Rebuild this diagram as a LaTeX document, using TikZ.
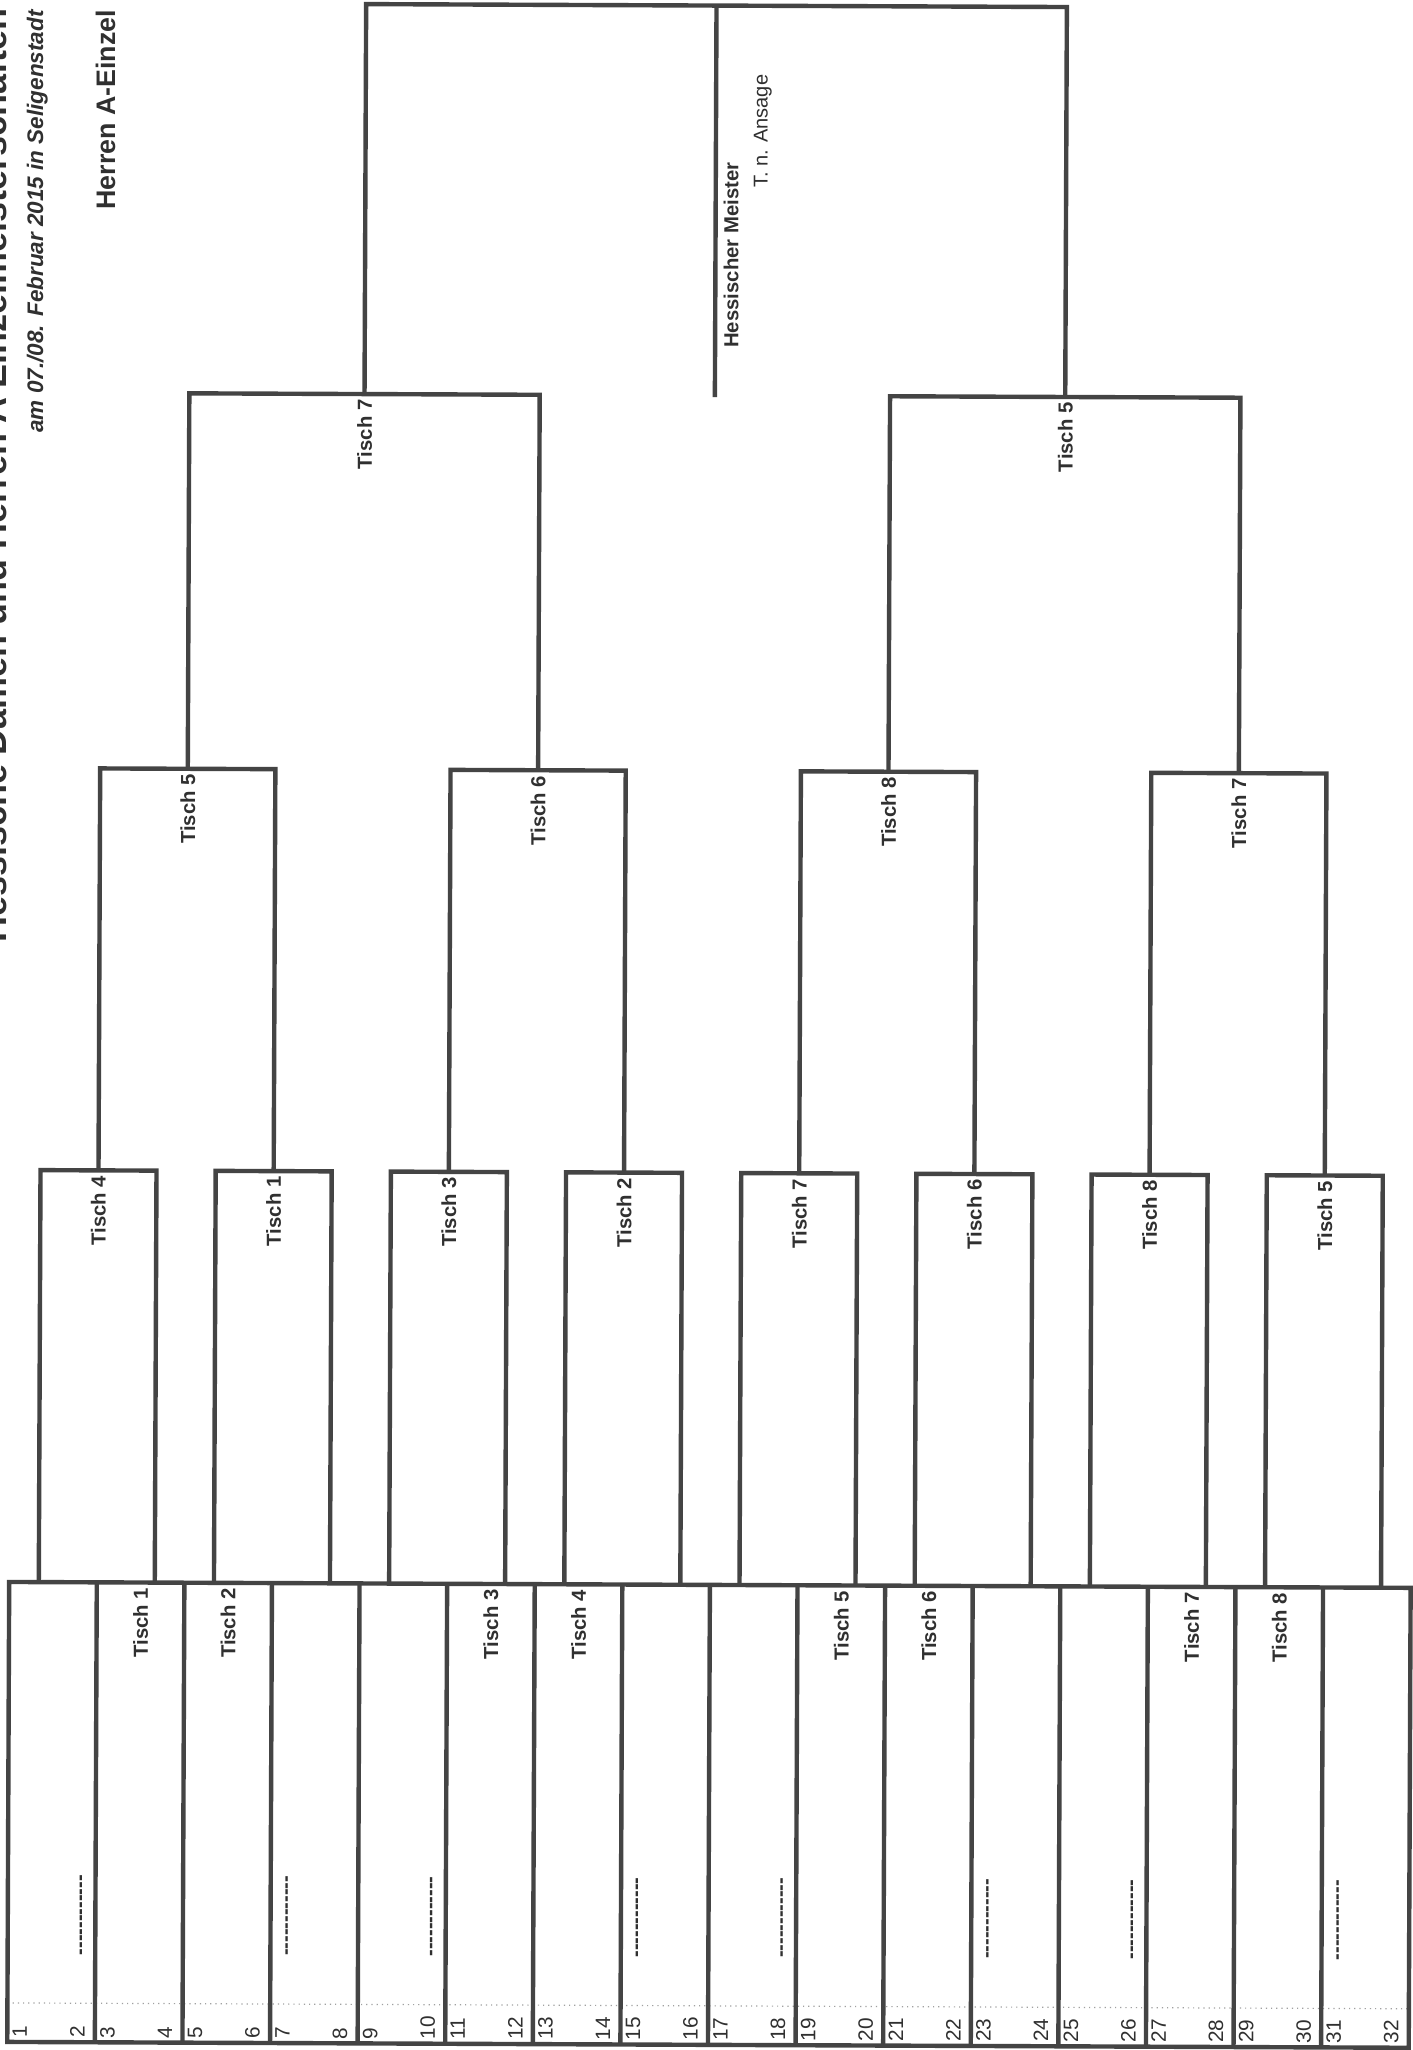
\documentclass[tikz,border=0pt]{standalone}
\usepackage{fontspec}
\setmainfont{Liberation Sans}
\definecolor{ink}{RGB}{68,68,68}
\definecolor{txt}{RGB}{48,48,48}
\definecolor{dotc}{RGB}{160,160,160}
\newcommand\hyd{-\kern0pt}
\newcommand\dashrun{\hyd\hyd\hyd\hyd\hyd\hyd\hyd\hyd\hyd\hyd\hyd\hyd}
\tikzset{
  brk/.style={draw=ink, line width=2.2pt, line join=miter},
  rlab/.style={rotate=90, anchor=east, inner sep=0pt, text=txt, font=\fontsize{10.15}{12}\selectfont\bfseries},
  numlab/.style={rotate=90, anchor=west, inner sep=0pt, text=txt, font=\fontsize{10.4}{12}\selectfont},
  dashlab/.style={rotate=90, anchor=base west, inner sep=0pt, text=txt, font=\fontsize{10}{12}\selectfont\bfseries},
  headlab/.style={rotate=90, anchor=base west, inner sep=0pt, text=txt},
}
\begin{document}
\begin{tikzpicture}[x=0.5pt,y=-0.5pt]
\useasboundingbox (0,0) rectangle (1413,2050);
\fill[white] (0,0) rectangle (1413,2050);
\clip (0,0) rectangle (1413,2050);

% header texts
\node[headlab, font=\fontsize{17.95}{20}\selectfont\bfseries] (title) at (6.7,943) {Hessische Damen und Herren A Einzelmeisterschaften};
\node[headlab, font=\fontsize{11.25}{13}\selectfont\bfseries\itshape] (sub) at (43,433) {am 07./08. Februar 2015 in Seligenstadt};
\node[headlab, font=\fontsize{13.4}{15}\selectfont\bfseries] (klasse) at (115,210) {Herren A-Einzel};

\begin{scope}[rotate around={-0.24:(706.5,1025)}]
\def\L{11.5}\def\W{87.6}
\def\yA{1585}\def\yB{2045}\def\yD{2006}
\def\yRb{1173}\def\yRc{771}\def\yRd{395.5}\def\yF{5.5}

% first round block
\coordinate (boxNW) at (\L,\yA);
\coordinate (boxSE) at ({\L+16*\W},\yB);
\coordinate (dotL) at (\L,\yD);
\coordinate (dotR) at ({\L+16*\W},\yD);
\draw[dotc, line width=0.6pt, dotted] (dotL) -- (dotR);
\draw[brk] (boxNW) rectangle (boxSE);
\foreach \i in {1,...,15} {
  \coordinate (dt\i) at ({\L+\i*\W},\yA);
  \coordinate (db\i) at ({\L+\i*\W},\yB);
  \draw[brk] (dt\i) -- (db\i);
}

% player numbers
\foreach \i in {0,...,15} {
  \pgfmathtruncatemacro\odd{2*\i+1}
  \pgfmathtruncatemacro\even{2*\i+2}
  \node[numlab] (n\odd) at ({\L+\i*\W+12.5},2041) {\odd};
  \node[numlab] (n\even) at ({\L+\i*\W+70},2041) {\even};
}

% placeholder dashes
\foreach \i/\o in {0/78.4, 3/21.4, 4/78.4, 7/21.4, 8/78.4, 11/21.4, 12/78.4, 15/21.4} {
  \node[dashlab] (dash\i) at ({\L+\i*\W+\o},1958) {\dashrun};
}

% first round table labels
\foreach \i/\lab in {1/1, 2/2, 5/3, 6/4, 9/5, 10/6, 13/7, 14/8} {
  \node[rlab] (t\i) at ({\L+(\i+0.5)*\W},{\yA+5}) {Tisch \lab};
}

% round 2
\foreach \k/\lab in {0/4,1/1,2/3,3/2,4/7,5/6,6/8,7/5} {
  \coordinate (rb\k) at ({\L+(2*\k+1)*\W},\yRb);
  \coordinate (rbL\k) at ({\L+(2*\k+1)*\W-58},\yA);
  \coordinate (rbR\k) at ({\L+(2*\k+1)*\W+58},\yA);
  \draw[brk] (rbL\k) |- (rb\k) -| (rbR\k);
  \node[rlab] (lb\k) at ({\L+(2*\k+1)*\W},{\yRb+5}) {Tisch \lab};
}

% round 3
\foreach \j/\lab in {0/5,1/6,2/8,3/7} {
  \pgfmathtruncatemacro\ka{2*\j}
  \pgfmathtruncatemacro\kb{2*\j+1}
  \coordinate (rc\j) at ({\L+(4*\j+2)*\W},\yRc);
  \draw[brk] (rb\ka) |- (rc\j) -| (rb\kb);
  \node[rlab] (lc\j) at ({\L+(4*\j+2)*\W},{\yRc+5}) {Tisch \lab};
}

% round 4
\foreach \m/\lab in {0/7,1/5} {
  \pgfmathtruncatemacro\ja{2*\m}
  \pgfmathtruncatemacro\jb{2*\m+1}
  \coordinate (rd\m) at ({\L+(8*\m+4)*\W},\yRd);
  \draw[brk] (rc\ja) |- (rd\m) -| (rc\jb);
  \node[rlab] (ld\m) at ({\L+(8*\m+4)*\W},{\yRd+5}) {Tisch \lab};
}

% final
\coordinate (fin) at ({\L+8*\W},\yF);
\coordinate (champ) at ({\L+8*\W},{\yRd+1.5});
\draw[brk] (rd0) |- (fin) -| (rd1);
\draw[brk] (fin) -- (champ);
\node[rotate=90, anchor=west, inner sep=0pt, text=txt, font=\fontsize{10.15}{12}\selectfont\bfseries] (meister) at ({\L+8*\W+16},348) {Hessischer Meister};
\node[rotate=90, anchor=west, inner sep=0pt, text=txt, font=\fontsize{10}{12}\selectfont] (ansage) at ({\L+8*\W+47},188) {T. n. Ansage};
\end{scope}
\end{tikzpicture}
\end{document}
